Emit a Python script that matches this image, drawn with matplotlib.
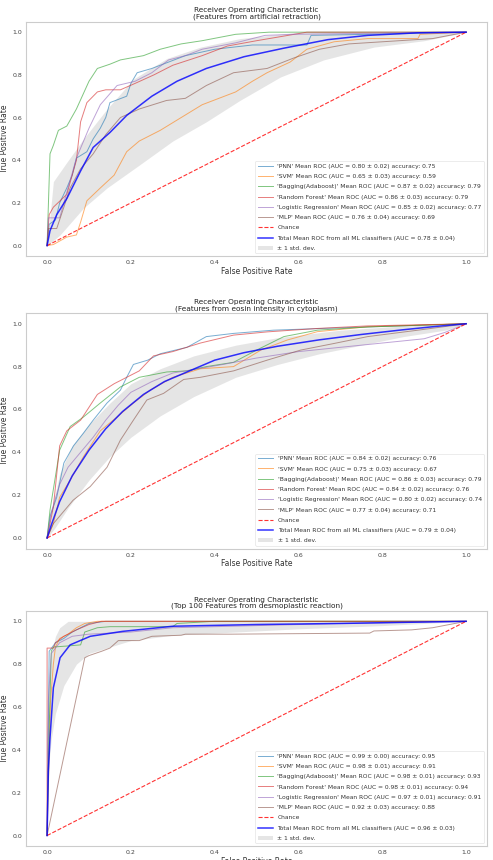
import numpy as np
import matplotlib as mpl
mpl.use('Agg')
import matplotlib.pyplot as plt

names = ['PNN', 'SVM', 'Bagging(Adaboost)', 'Random Forest', 'Logistic Regression', 'MLP']
colors = ['tab:blue', 'tab:orange', 'tab:green', 'tab:red', 'tab:purple', 'tab:brown']

titles = ['Receiver Operating Characteristic\n(Features from artificial retraction)',
          'Receiver Operating Characteristic\n(Features from eosin intensity in cytoplasm)',
          'Receiver Operating Characteristic\n(Top 100 Features from desmoplastic reaction)']

# auc, std, accuracy per classifier
p1_auc = [0.80, 0.65, 0.87, 0.86, 0.85, 0.76]
p1_std = [0.02, 0.03, 0.02, 0.03, 0.02, 0.04]
p1_acc = [0.75, 0.59, 0.79, 0.79, 0.77, 0.69]
p2_auc = [0.84, 0.75, 0.86, 0.84, 0.80, 0.77]
p2_std = [0.02, 0.03, 0.03, 0.02, 0.02, 0.04]
p2_acc = [0.76, 0.67, 0.79, 0.76, 0.74, 0.71]
p3_auc = [0.99, 0.98, 0.98, 0.98, 0.97, 0.92]
p3_std = [0.00, 0.01, 0.01, 0.01, 0.01, 0.03]
p3_acc = [0.95, 0.91, 0.93, 0.94, 0.91, 0.88]
total_auc = [0.78, 0.79, 0.96]
total_std = [0.04, 0.04, 0.03]

# panel 1 curves (fpr, tpr)
p1_pnn = [(0, 0), (0.005, 0.1), (0.02, 0.12), (0.03, 0.2), (0.047, 0.27), (0.06, 0.33), (0.07, 0.41),
          (0.095, 0.44), (0.11, 0.5), (0.127, 0.55), (0.14, 0.6), (0.15, 0.67), (0.19, 0.7), (0.2, 0.76),
          (0.215, 0.81), (0.25, 0.83), (0.29, 0.86), (0.33, 0.89), (0.4, 0.92), (0.49, 0.94),
          (0.62, 0.94), (0.63, 0.985), (0.77, 0.99), (1, 1)]
p1_svm = [(0, 0), (0.015, 0.005), (0.047, 0.04), (0.07, 0.05), (0.08, 0.11), (0.095, 0.21),
          (0.127, 0.27), (0.16, 0.33), (0.19, 0.44), (0.22, 0.49), (0.27, 0.54), (0.32, 0.6),
          (0.37, 0.66), (0.45, 0.72), (0.49, 0.77), (0.525, 0.81), (0.58, 0.86), (0.62, 0.92),
          (0.685, 0.955), (0.765, 0.97), (0.885, 0.97), (0.89, 0.99), (1, 1)]
p1_bag = [(0, 0), (0.007, 0.43), (0.015, 0.47), (0.027, 0.54), (0.047, 0.56), (0.07, 0.64),
          (0.1, 0.77), (0.12, 0.83), (0.15, 0.85), (0.175, 0.87), (0.23, 0.89), (0.27, 0.92),
          (0.32, 0.945), (0.37, 0.96), (0.45, 0.99), (0.53, 1.0), (1, 1)]
p1_rf = [(0, 0), (0.005, 0.145), (0.015, 0.18), (0.047, 0.24), (0.07, 0.4), (0.075, 0.49),
         (0.08, 0.58), (0.095, 0.67), (0.12, 0.72), (0.14, 0.73), (0.175, 0.73), (0.21, 0.76),
         (0.255, 0.8), (0.3, 0.845), (0.37, 0.89), (0.43, 0.935), (0.5, 0.96), (0.59, 0.99),
         (0.62, 1.0), (1, 1)]
p1_lr = [(0, 0), (0.003, 0.13), (0.03, 0.13), (0.05, 0.27), (0.07, 0.41), (0.1, 0.55), (0.127, 0.66),
         (0.167, 0.75), (0.21, 0.77), (0.25, 0.81), (0.29, 0.87), (0.33, 0.89), (0.37, 0.92),
         (0.45, 0.95), (0.52, 0.985), (0.59, 0.99), (1, 1)]
p1_mlp = [(0, 0), (0.003, 0.08), (0.023, 0.08), (0.04, 0.18), (0.055, 0.27), (0.08, 0.36),
          (0.11, 0.43), (0.14, 0.52), (0.175, 0.6), (0.22, 0.64), (0.285, 0.68), (0.33, 0.69),
          (0.38, 0.75), (0.445, 0.81), (0.525, 0.83), (0.59, 0.88), (0.65, 0.92), (0.72, 0.945),
          (0.84, 0.96), (0.92, 0.97), (1, 1)]
p1_mean = [(0, 0), (0.007, 0.07), (0.023, 0.145), (0.047, 0.22), (0.08, 0.35), (0.11, 0.46),
           (0.15, 0.53), (0.19, 0.61), (0.25, 0.7), (0.31, 0.77), (0.38, 0.83), (0.47, 0.885),
           (0.565, 0.925), (0.67, 0.965), (0.765, 0.985), (0.885, 0.997), (1, 1)]
p1_upper = [(0, 0), (0.015, 0.3), (0.047, 0.39), (0.087, 0.5), (0.143, 0.64), (0.206, 0.78),
            (0.286, 0.877), (0.366, 0.93), (0.46, 0.97), (0.6, 1.0), (1, 1)]
p1_lower = [(0, 0), (0.031, 0.05), (0.087, 0.176), (0.143, 0.27), (0.222, 0.38), (0.3, 0.49),
            (0.38, 0.58), (0.46, 0.68), (0.557, 0.79), (0.66, 0.87), (0.78, 0.93), (0.9, 0.96), (1, 1)]

# panel 2 curves
p2_pnn = [(0, 0), (0.007, 0.1), (0.023, 0.19), (0.04, 0.35), (0.063, 0.43), (0.087, 0.49),
          (0.11, 0.55), (0.143, 0.63), (0.175, 0.69), (0.19, 0.75), (0.206, 0.81), (0.24, 0.83),
          (0.27, 0.86), (0.334, 0.89), (0.38, 0.94), (0.445, 0.955), (0.54, 0.97), (0.685, 0.98), (1, 1)]
p2_svm = [(0, 0), (0.015, 0.067), (0.03, 0.19), (0.055, 0.27), (0.087, 0.38), (0.127, 0.5),
          (0.167, 0.565), (0.206, 0.63), (0.246, 0.69), (0.3, 0.75), (0.366, 0.79), (0.445, 0.8),
          (0.51, 0.877), (0.573, 0.924), (0.645, 0.963), (0.765, 0.986), (1, 1)]
p2_bag = [(0, 0), (0.007, 0.13), (0.03, 0.41), (0.055, 0.52), (0.087, 0.565), (0.127, 0.63),
          (0.175, 0.705), (0.22, 0.75), (0.286, 0.775), (0.334, 0.78), (0.38, 0.8), (0.445, 0.82),
          (0.5, 0.877), (0.565, 0.94), (0.645, 0.97), (0.765, 0.985), (1, 1)]
p2_rf = [(0, 0), (0.015, 0.145), (0.03, 0.43), (0.047, 0.5), (0.08, 0.55), (0.12, 0.67),
         (0.16, 0.72), (0.19, 0.75), (0.22, 0.78), (0.254, 0.85), (0.3, 0.87), (0.366, 0.91),
         (0.445, 0.947), (0.525, 0.962), (0.645, 0.978), (0.765, 0.99), (1, 1)]
p2_lr = [(0, 0), (0.01, 0.12), (0.03, 0.25), (0.05, 0.33), (0.08, 0.4), (0.11, 0.47), (0.14, 0.55),
         (0.17, 0.62), (0.2, 0.68), (0.25, 0.73), (0.3, 0.77), (0.36, 0.79), (0.42, 0.81),
         (0.5, 0.84), (0.6, 0.87), (0.7, 0.89), (0.8, 0.91), (0.9, 0.93), (0.95, 0.96), (1, 1)]
p2_mlp = [(0, 0), (0.015, 0.067), (0.062, 0.176), (0.103, 0.24), (0.143, 0.33), (0.175, 0.457),
          (0.206, 0.55), (0.238, 0.644), (0.278, 0.675), (0.326, 0.74), (0.366, 0.75),
          (0.445, 0.78), (0.525, 0.83), (0.605, 0.877), (0.685, 0.908), (0.765, 0.94),
          (0.885, 0.97), (1, 1)]
p2_mean = [(0, 0), (0.01, 0.06), (0.03, 0.17), (0.06, 0.29), (0.1, 0.41), (0.14, 0.51), (0.18, 0.59),
           (0.23, 0.67), (0.28, 0.73), (0.34, 0.78), (0.4, 0.83), (0.47, 0.865), (0.55, 0.895),
           (0.65, 0.925), (0.75, 0.95), (0.85, 0.972), (0.93, 0.988), (1, 1)]
p2_upper = [(0, 0), (0.01, 0.12), (0.03, 0.3), (0.06, 0.43), (0.1, 0.53), (0.15, 0.63), (0.2, 0.72),
            (0.27, 0.79), (0.35, 0.85), (0.45, 0.9), (0.55, 0.935), (0.7, 0.97), (0.85, 0.99), (1, 1)]
p2_lower = [(0, 0), (0.02, 0.05), (0.05, 0.14), (0.1, 0.27), (0.15, 0.38), (0.2, 0.47), (0.27, 0.57),
            (0.35, 0.66), (0.45, 0.75), (0.55, 0.81), (0.65, 0.86), (0.75, 0.9), (0.85, 0.94),
            (0.95, 0.97), (1, 1)]

# panel 3 curves
p3_pnn = [(0, 0), (0.005, 0.86), (0.02, 0.9), (0.04, 0.92), (0.06, 0.95), (0.08, 0.97), (0.1, 0.99),
          (0.14, 1.0), (1, 1)]
p3_svm = [(0, 0), (0.008, 0.62), (0.015, 0.8), (0.02, 0.88), (0.03, 0.92), (0.05, 0.94), (0.07, 0.97),
          (0.09, 0.99), (0.12, 1.0), (1, 1)]
p3_bag = [(0, 0), (0.005, 0.5), (0.01, 0.86), (0.015, 0.88), (0.05, 0.885), (0.08, 0.89), (0.09, 0.95),
          (0.12, 0.97), (0.15, 0.975), (0.3, 0.975), (0.31, 0.99), (0.4, 1.0), (1, 1)]
p3_rf = [(0, 0), (0.0, 0.875), (0.015, 0.875), (0.02, 0.9), (0.04, 0.93), (0.07, 0.96), (0.1, 0.985),
         (0.13, 1.0), (1, 1)]
p3_lr = [(0, 0), (0.003, 0.63), (0.01, 0.85), (0.03, 0.9), (0.06, 0.93), (0.1, 0.94), (0.2, 0.95),
         (0.3, 0.97), (0.5, 0.98), (0.7, 0.99), (1, 1)]
p3_mlp = [(0, 0), (0.09, 0.83), (0.1, 0.84), (0.13, 0.86), (0.15, 0.875), (0.17, 0.91), (0.22, 0.91),
          (0.25, 0.93), (0.32, 0.935), (0.33, 0.94), (0.44, 0.94), (0.77, 0.945), (0.78, 0.955),
          (0.87, 0.96), (0.92, 0.97), (0.96, 0.985), (1, 1)]
p3_mean = [(0, 0), (0.003, 0.3), (0.007, 0.456), (0.015, 0.69), (0.031, 0.83), (0.055, 0.89),
           (0.103, 0.93), (0.18, 0.953), (0.3, 0.977), (0.5, 0.985), (0.7, 0.99), (0.85, 0.995), (1, 1)]
p3_upper = [(0, 0.48), (0.005, 0.75), (0.01, 0.85), (0.02, 0.93), (0.03, 0.97), (0.05, 1.0), (1, 1)]
p3_lower = [(0, 0), (0.005, 0.35), (0.01, 0.45), (0.02, 0.57), (0.04, 0.7), (0.07, 0.8), (0.1, 0.85),
            (0.15, 0.88), (0.2, 0.91), (0.3, 0.935), (0.45, 0.95), (0.6, 0.965), (0.8, 0.98), (1, 1)]

panels = [
    ([p1_pnn, p1_svm, p1_bag, p1_rf, p1_lr, p1_mlp], p1_auc, p1_std, p1_acc, p1_mean, p1_upper, p1_lower),
    ([p2_pnn, p2_svm, p2_bag, p2_rf, p2_lr, p2_mlp], p2_auc, p2_std, p2_acc, p2_mean, p2_upper, p2_lower),
    ([p3_pnn, p3_svm, p3_bag, p3_rf, p3_lr, p3_mlp], p3_auc, p3_std, p3_acc, p3_mean, p3_upper, p3_lower),
]

axes_rects = [[0.053, 0.702, 0.935, 0.273],
              [0.053, 0.362, 0.935, 0.274],
              [0.053, 0.016, 0.935, 0.274]]

fig = plt.figure(figsize=(4.93, 8.6), dpi=100)

for k, (curves, auc, std, acc, mean, upper, lower) in enumerate(panels):
    ax = fig.add_axes(axes_rects[k])
    for i, c in enumerate(curves):
        c = np.array(c)
        ax.plot(c[:, 0], c[:, 1], color=colors[i], lw=0.7, alpha=0.6,
                label="'%s' Mean ROC (AUC = %0.2f \u00b1 %0.2f) accuracy: %0.2f"
                      % (names[i], auc[i], std[i], acc[i]))
    ax.plot([0, 1], [0, 1], linestyle='--', lw=0.8, color='r', alpha=0.8, label='Chance')
    m = np.array(mean)
    ax.plot(m[:, 0], m[:, 1], color='b', lw=1.1, alpha=0.8,
            label='Total Mean ROC from all ML classifiers (AUC = %0.2f \u00b1 %0.2f)'
                  % (total_auc[k], total_std[k]))
    up = np.array(upper)
    lo = np.array(lower)
    grid = np.union1d(up[:, 0], lo[:, 0])
    ax.fill_between(grid, np.interp(grid, lo[:, 0], lo[:, 1]), np.interp(grid, up[:, 0], up[:, 1]),
                    color='grey', alpha=0.2, lw=0, label='\u00b1 1 std. dev.')

    ax.set_xlim([-0.05, 1.05])
    ax.set_ylim([-0.05, 1.05])
    ax.set_xlabel('False Positive Rate', fontsize=5.5, color='#333333', labelpad=1)
    ax.set_ylabel('True Positive Rate', fontsize=5.5, color='#333333', labelpad=2)
    ax.set_title(titles[k], fontsize=5.3, color='#222222', pad=2, linespacing=1.05)
    ax.tick_params(axis='both', labelsize=4.5, colors='#444444', length=0, pad=3)
    for s in ax.spines.values():
        s.set_color('#cccccc')
        s.set_linewidth(0.8)
    leg = ax.legend(loc='lower right', fontsize=4.3, frameon=True, handlelength=2.5,
                    labelspacing=0.85)
    leg.get_frame().set_edgecolor('#dddddd')
    leg.get_frame().set_linewidth(0.5)
    for t in leg.get_texts():
        t.set_color('#333333')

fig.savefig('out.png', dpi=100)
plt.close()
